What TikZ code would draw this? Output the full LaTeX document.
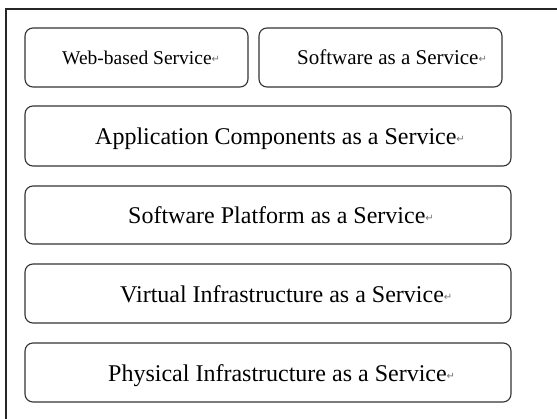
\documentclass[tikz,border=0pt]{standalone}
\usepackage{fontspec}
\setmainfont{Liberation Serif}
\newfontfamily\symfont{DejaVu Sans}
\newcommand{\pmark}{{\symfont\fontsize{10}{10}\selectfont\color{black!55}\raisebox{0.12em}{↵}}}
\begin{document}
\begin{tikzpicture}[x=1pt,y=-1pt,
  layerbox/.style={draw=black!80, line width=1.1pt, rounded corners=8pt, fill=white},
  smalltxt/.style={anchor=base west, inner sep=0pt, font=\fontsize{19.5}{20}\selectfont},
  bigtxt/.style={anchor=base west, inner sep=0pt, font=\fontsize{24}{25}\selectfont}]
\useasboundingbox (0,0) rectangle (557,418);
\fill[white] (0,0) rectangle (557,418);
% outer frame
\coordinate (fbl) at (6,420);
\coordinate (ftl) at (6,9);
\coordinate (ftr) at (559,9);
\draw[black!85, line width=1.2pt] (fbl) -- (ftl) -- (ftr);
% boxes
\node[layerbox, minimum width=223pt, minimum height=59pt] (web) at (136.5,57.5) {};
\node[layerbox, minimum width=243pt, minimum height=59pt] (saas) at (380.5,57.5) {};
\node[layerbox, minimum width=486pt, minimum height=60pt] (acaas) at (268,136) {};
\node[layerbox, minimum width=486pt, minimum height=58pt] (spaas) at (268,215) {};
\node[layerbox, minimum width=486pt, minimum height=59pt] (viaas) at (268,293.5) {};
\node[layerbox, minimum width=486pt, minimum height=59pt] (piaas) at (268,372.5) {};
% texts
\node[smalltxt] (tweb) at (62,64) {Web-based Service\pmark};
\node[smalltxt, font=\fontsize{21}{22}\selectfont] (tsaas) at (297,64) {Software as a Service\pmark};
\node[bigtxt] (tacaas) at (95,144) {Application Components as a Service\pmark};
\node[bigtxt] (tspaas) at (128,223) {Software Platform as a Service\pmark};
\node[bigtxt] (tviaas) at (120,302) {Virtual Infrastructure as a Service\pmark};
\node[bigtxt] (tpiaas) at (108,381) {Physical Infrastructure as a Service\pmark};
\end{tikzpicture}
\end{document}
